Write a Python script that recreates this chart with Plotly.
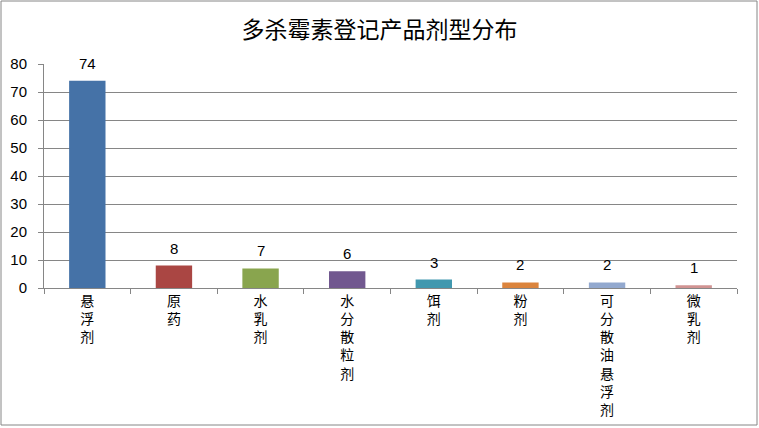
import plotly.graph_objects as go

categories = ["悬浮剂", "原药", "水乳剂", "水分散粒剂", "饵剂", "粉剂", "可分散油悬浮剂", "微乳剂"]
values = [74, 8, 7, 6, 3, 2, 2, 1]
colors = ["#4572A7", "#AA4643", "#89A54E", "#71588F", "#4198AF", "#DB843D", "#93A9CF", "#D19392"]
y_ticks = [0, 10, 20, 30, 40, 50, 60, 70, 80]

tick_text = ["<br>".join(list(c)) for c in categories]

fig = go.Figure()
fig.add_trace(go.Bar(
    x=categories,
    y=values,
    marker=dict(color=colors, line=dict(width=0)),
    cliponaxis=False,
    width=0.42,
))

for c, v in zip(categories, values):
    fig.add_annotation(
        x=c, y=v, text=str(v), showarrow=False,
        xref="x", yref="y", yanchor="bottom", yshift=7,
        font=dict(family="Liberation Sans, Arial, sans-serif", size=15, color="#000000"),
    )

L, R, T, B = 44, 22, 64, 140
W, H = 759, 428
pw, ph = W - L - R, H - T - B

fig.update_layout(
    width=W, height=H,
    margin=dict(l=L, r=R, t=T, b=B, autoexpand=False),
    paper_bgcolor="white",
    plot_bgcolor="white",
    showlegend=False,
    title=dict(
        text="多杀霉素登记产品剂型分布",
        x=0.5, xanchor="center", y=1 - 30 / H, yanchor="middle",
        font=dict(family="Noto Sans CJK SC", size=23, color="#000000"),
    ),
    xaxis=dict(
        tickmode="array", tickvals=categories, ticktext=tick_text,
        tickangle=0,
        tickfont=dict(family="Noto Sans CJK SC", size=14, color="#000000"),
        showline=True, linecolor="#868686", linewidth=1,
        ticks="outside", ticklen=5, tickcolor="#868686",
        tickson="boundaries",
        showgrid=False,
        automargin=False,
    ),
    yaxis=dict(
        range=[0, 80], tickvals=y_ticks,
        tickfont=dict(family="Liberation Sans, Arial, sans-serif", size=15, color="#000000"),
        showline=True, linecolor="#868686", linewidth=1,
        ticks="outside", ticklen=5, tickcolor="#868686",
        ticklabelstandoff=8,
        showgrid=True, gridcolor="#868686", gridwidth=1,
        zeroline=False,
        automargin=False,
    ),
    bargap=0.58,
)

# Outer chart border (pixel positions converted to paper coordinates)
fig.add_shape(
    type="rect", xref="paper", yref="paper",
    x0=(1 - L) / pw, x1=(757 - L) / pw,
    y0=-(425 - (H - B)) / ph,
    y1=((H - B) - 1) / ph,
    line=dict(color="#868686", width=1),
    fillcolor="rgba(0,0,0,0)",
    layer="below",
)

fig.write_html(
    "out.html",
    config={"displayModeBar": False},
    post_script="document.body.style.margin='0';document.body.style.padding='0';",
)
